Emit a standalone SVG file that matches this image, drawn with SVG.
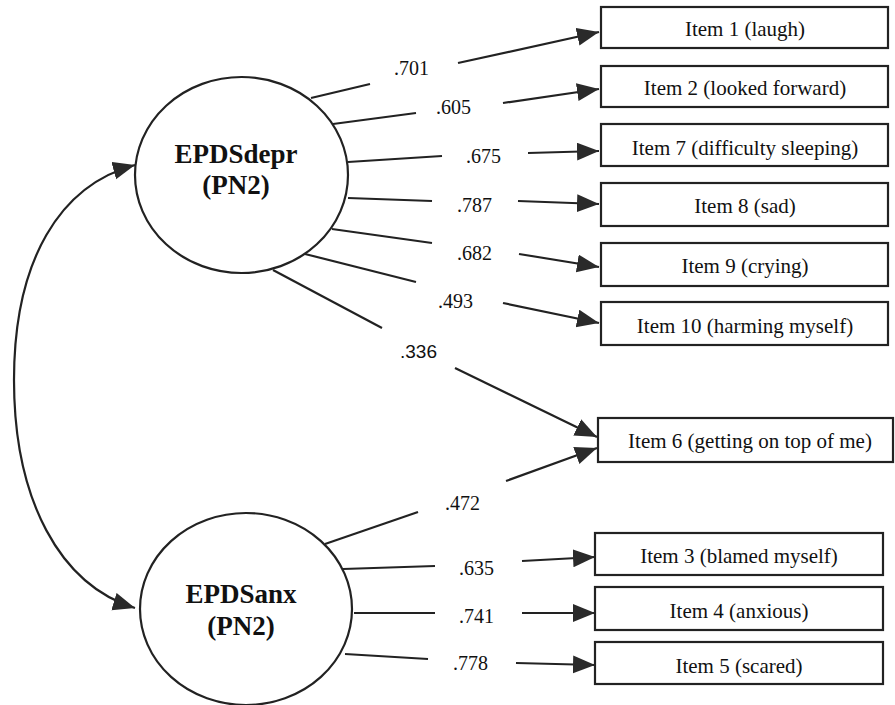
<svg xmlns="http://www.w3.org/2000/svg" width="895" height="705" viewBox="0 0 895 705">
<defs>
<marker id="ah" markerUnits="userSpaceOnUse" markerWidth="24" markerHeight="20" refX="22" refY="9" orient="auto-start-reverse" viewBox="0 0 24 20">
<path d="M0,0 L22,9 L0,18 z" fill="#2a2a2a"/>
</marker>
<style>
.ln{stroke:#222;stroke-width:2.2;fill:none}
.ar{stroke:#222;stroke-width:2.2;fill:none;marker-end:url(#ah)}
.box{fill:#fff;stroke:#222;stroke-width:2.2}
.ell{fill:#fff;stroke:#222;stroke-width:2.2}
.it{font-family:"Liberation Serif","Times New Roman",serif;font-size:21px;fill:#111;text-anchor:middle}
.lv{font-family:"Liberation Serif","Times New Roman",serif;font-size:20px;fill:#111}
.lvs{font-family:"Liberation Sans",Arial,sans-serif;font-size:19px;fill:#111}
.lat{font-family:"Liberation Serif","Times New Roman",serif;font-size:27px;font-weight:bold;fill:#111;text-anchor:middle}
</style>
</defs>
<rect width="895" height="705" fill="#fff"/>
<g id="connectors">
<path class="ln" d="M135,165 C60,185 14,260 14,380 C14,500 60,585 135,608" marker-start="url(#ah)" marker-end="url(#ah)"/>
<line class="ln" x1="311" y1="98" x2="370" y2="84"/>
<line class="ar" x1="458" y1="63" x2="599" y2="32"/>
<line class="ln" x1="333" y1="124" x2="416" y2="113"/>
<line class="ar" x1="503" y1="103" x2="599" y2="89"/>
<line class="ln" x1="348" y1="162" x2="442" y2="156"/>
<line class="ar" x1="528" y1="153" x2="599" y2="151"/>
<line class="ln" x1="348" y1="198" x2="432" y2="201"/>
<line class="ar" x1="518" y1="201" x2="599" y2="204"/>
<line class="ln" x1="332" y1="229" x2="432" y2="243"/>
<line class="ar" x1="519" y1="254" x2="599" y2="267"/>
<line class="ln" x1="305" y1="254" x2="416" y2="282"/>
<line class="ar" x1="503" y1="303" x2="599" y2="323"/>
<line class="ln" x1="273" y1="270" x2="382" y2="328"/>
<line class="ar" x1="455" y1="368" x2="597" y2="437"/>
<line class="ln" x1="325" y1="544" x2="418" y2="512"/>
<line class="ar" x1="506" y1="481" x2="597" y2="448"/>
<line class="ln" x1="343" y1="569" x2="435" y2="566"/>
<line class="ar" x1="522" y1="561" x2="595" y2="557"/>
<line class="ln" x1="354" y1="613" x2="435" y2="613"/>
<line class="ar" x1="522" y1="613" x2="595" y2="613"/>
<line class="ln" x1="345" y1="654" x2="428" y2="659"/>
<line class="ar" x1="516" y1="663" x2="595" y2="665"/>
</g>
<g id="loadings">
<text class="lv" x="394" y="75">.701</text>
<text class="lv" x="436" y="114">.605</text>
<text class="lv" x="466" y="163">.675</text>
<text class="lv" x="457" y="212">.787</text>
<text class="lv" x="457" y="260">.682</text>
<text class="lv" x="438" y="308">.493</text>
<text class="lvs" x="400" y="358">.336</text>
<text class="lv" x="445" y="510">.472</text>
<text class="lv" x="459" y="575">.635</text>
<text class="lv" x="459" y="623">.741</text>
<text class="lv" x="453" y="670">.778</text>
</g>
<g id="EPDSdepr">
<ellipse class="ell" cx="241.5" cy="175" rx="106.5" ry="98"/>
<text class="lat" x="236" y="163">EPDSdepr</text>
<text class="lat" x="236" y="194">(PN2)</text>
</g>
<g id="EPDSanx">
<ellipse class="ell" cx="246" cy="609" rx="106" ry="96"/>
<text class="lat" x="241" y="603">EPDSanx</text>
<text class="lat" x="241" y="635">(PN2)</text>
</g>
<g id="item1"><rect class="box" x="601" y="7" width="287" height="41"/><text class="it" x="745" y="36">Item 1 (laugh)</text></g>
<g id="item2"><rect class="box" x="601" y="66" width="287" height="41"/><text class="it" x="745" y="95">Item 2 (looked forward)</text></g>
<g id="item7"><rect class="box" x="601" y="124" width="287" height="42"/><text class="it" x="745" y="155">Item 7 (difficulty sleeping)</text></g>
<g id="item8"><rect class="box" x="601" y="183" width="287" height="43"/><text class="it" x="745" y="213">Item 8 (sad)</text></g>
<g id="item9"><rect class="box" x="601" y="243" width="287" height="43"/><text class="it" x="745" y="273">Item 9 (crying)</text></g>
<g id="item10"><rect class="box" x="601" y="302" width="287" height="43"/><text class="it" x="745" y="333">Item 10 (harming myself)</text></g>
<g id="item6"><rect class="box" x="598" y="418" width="295" height="44"/><text class="it" x="750" y="448">Item 6 (getting on top of me)</text></g>
<g id="item3"><rect class="box" x="595" y="533" width="288" height="42"/><text class="it" x="739" y="563">Item 3 (blamed myself)</text></g>
<g id="item4"><rect class="box" x="595" y="587" width="288" height="43"/><text class="it" x="739" y="618">Item 4 (anxious)</text></g>
<g id="item5"><rect class="box" x="595" y="642" width="288" height="42"/><text class="it" x="739" y="673">Item 5 (scared)</text></g>
</svg>
